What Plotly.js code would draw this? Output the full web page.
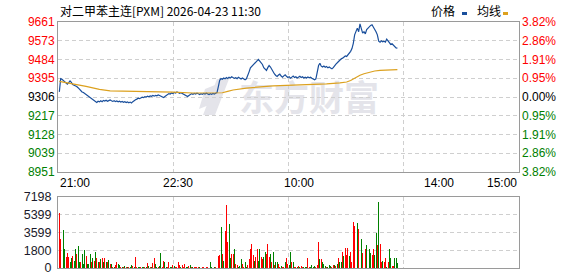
<!DOCTYPE html>
<html><head><meta charset="utf-8">
<script src="https://cdn.plot.ly/plotly-3.0.1.min.js"></script>
<style>html,body{margin:0;padding:0;background:#fff;} #chart{width:578px;height:276px;}</style>
</head><body><div id="chart"></div>
<script>
// ---------- data ----------
const titleText = '对二甲苯主连[PXM] 2026-04-23 11:30';
const timeLabels = ['21:00', '22:30', '10:00', '14:00', '15:00'];
const timeLabelMinutes = [0, 90, 180, 285, 345];
const sessionMinutes = 345;
const prevSettle = 9306;
const priceLow = 8951;
const priceHigh = 9661;
const priceTickLabels = ['8951', '9039', '9128', '9217', '9306', '9395', '9484', '9573', '9661'];
const pctTickLabels = ['3.82%', '2.86%', '1.91%', '0.95%', '0.00%', '0.95%', '1.91%', '2.86%', '3.82%'];
const volMax = 7198;
const volTickLabels = ['0', '1800', '3599', '5399', '7198'];

const price = [
9330,9393,9390,9385,9378,9372,9367,9374,9382,9375,
9365,9362,9360,9356,9350,9343,9335,9330,9327,9322,
9318,9315,9310,9306,9300,9295,9290,9284,9280,9286,
9283,9288,9284,9290,9287,9291,9286,9289,9292,9288,
9285,9288,9284,9287,9283,9286,9282,9285,9281,9284,
9280,9283,9279,9282,9278,9284,9290,9293,9296,9300,
9298,9302,9305,9303,9308,9306,9310,9307,9311,9309,
9313,9310,9314,9312,9316,9313,9310,9306,9303,9308,
9314,9318,9322,9320,9325,9322,9328,9325,9330,9327,
9323,9326,9322,9318,9315,9312,9308,9313,9318,9322,
9319,9323,9320,9324,9321,9318,9322,9319,9323,9320,
9324,9321,9318,9322,9319,9323,9320,9324,9327,9355,
9385,9393,9390,9396,9392,9398,9394,9400,9396,9402,
9398,9394,9397,9393,9399,9395,9391,9396,9392,9388,
9392,9405,9425,9444,9450,9456,9462,9472,9478,9484,
9476,9468,9460,9445,9436,9432,9445,9455,9448,9435,
9425,9415,9408,9403,9410,9414,9405,9400,9406,9411,
9404,9398,9402,9395,9400,9405,9398,9402,9396,9400,
9404,9398,9402,9396,9400,9396,9401,9397,9400,9395,
9390,9388,9392,9420,9455,9466,9452,9448,9453,9447,
9450,9444,9448,9443,9440,9445,9455,9462,9468,9475,
9480,9487,9490,9495,9500,9498,9505,9510,9522,9535,
9560,9600,9622,9632,9615,9652,9630,9608,9615,9605,
9625,9633,9640,9645,9648,9638,9628,9615,9600,9570,
9565,9572,9567,9570,9566,9580,9572,9562,9555,9558,
9550,9545,9538,9537
];

const avgMinute = [0,5,10,15,20,25,30,38,50,70,85,100,119,122,126,130,140,150,160,170,180,190,200,210,215,218,220,222,225,228,232,236,240,246,253];
const avgPrice  = [9380,9373,9368,9362,9356,9349,9342,9335,9334,9333,9329,9325,9323,9326,9333,9339,9348,9355,9359,9361,9363,9365,9368,9373,9377,9384,9392,9400,9409,9416,9423,9429,9432,9434,9436];

const volume = [
5548,2937,2708,3785,1892,1077,1468,1077,587,979,
1240,750,1958,1370,2219,587,587,1370,424,1827,
1240,424,424,1370,653,979,750,1566,1044,653,
587,914,1044,587,1044,587,587,848,392,392,
150,100,261,555,424,326,120,100,100,196,
100,120,100,100,261,196,120,1077,100,100,
100,100,100,120,100,100,490,196,100,100,
490,979,392,100,100,196,1468,120,750,587,
100,100,653,100,100,261,196,100,100,653,
261,100,261,100,392,100,100,196,326,100,
100,100,100,100,100,100,100,100,100,100,
100,120,326,587,100,100,100,100,490,1240,
1305,4177,1403,750,3753,6363,2643,4406,979,1403,
1370,1958,424,326,150,196,914,424,100,587,
100,326,914,1958,2447,1305,750,1077,1892,750,
1892,1077,914,1077,1632,1403,2447,1077,1403,587,
1566,261,587,555,424,100,196,120,100,587,
979,424,261,1566,653,587,100,100,100,196,
100,196,100,100,120,100,979,100,100,261,
120,196,100,326,2643,914,914,587,424,196,
100,100,261,196,100,261,326,196,424,1011,
587,587,1632,1240,2056,1305,2056,1240,1566,653,
4601,4243,3622,4504,3948,5287,2871,1468,1468,1958,
2284,979,1958,1500,1305,1892,1305,3524,2284,6624,
2382,653,750,653,1011,100,653,1892,979,196,
196,1044,979,490
];
const volUp = [
1,1,0,0,0,1,1,1,0,0,
1,0,0,1,0,0,1,0,0,0,
1,0,0,0,1,0,1,0,1,0,
1,0,1,0,1,0,1,0,1,0,
1,0,1,1,0,0,1,0,1,0,
1,0,1,0,0,1,0,1,1,0,
0,1,0,0,1,0,1,0,1,0,
1,1,0,0,1,0,0,1,1,0,
0,1,1,0,0,1,0,1,1,1,
1,0,1,1,1,0,0,1,0,1,
0,1,1,1,1,0,1,1,1,1,
1,1,1,0,0,1,0,1,0,1,
1,0,1,0,1,1,1,0,0,1,
1,0,1,1,0,0,0,1,1,0,
0,1,1,1,1,1,0,1,1,0,
0,1,1,0,0,1,1,1,0,1,
0,1,0,0,1,1,0,1,1,0,
1,1,0,0,1,0,1,1,0,1,
0,1,1,0,0,0,1,1,0,0,
0,0,1,1,1,0,1,0,0,0,
1,0,0,0,1,1,0,1,0,1,
0,0,1,0,1,1,1,0,1,1,
1,1,1,0,1,1,0,1,1,1,
0,0,0,0,1,1,0,0,1,0,
1,1,0,1,1,0,1,0,0,1,
1,0,0,0
];

// ---------- styling ----------
const BLUE = '#1a4f9c', ORANGE = '#dca11f', RED = '#ff0000', GREEN = '#008000';
const GRID = '#cfcfcf', BORDER = '#9a9a9a';
const xOffset = 1;

const nTick = priceTickLabels.length;
const priceTickVals = priceTickLabels.map((_, i) => priceLow + (priceHigh - priceLow) * i / (nTick - 1));
const tickColor = v => (Math.abs(v - prevSettle) < 1 ? '#000' : (v > prevSettle ? RED : GREEN));
const leftText = priceTickLabels.map((t, i) => `<span style="color:${tickColor(priceTickVals[i])}">${t}</span>`);
const rightText = pctTickLabels.map((t, i) => `<span style="color:${tickColor(priceTickVals[i])}">${t}</span>`);
const volTickVals = volTickLabels.map((_, i) => volMax * i / (volTickLabels.length - 1));
const quarterVals = [1, 2, 3].map(k => sessionMinutes * k / 4);

const traces = [
  {type: 'scatter', mode: 'lines', x: price.map((_, i) => i + xOffset), y: price,
   xaxis: 'x', yaxis: 'y', line: {color: BLUE, width: 1.2}, hoverinfo: 'skip'},
  {type: 'scatter', mode: 'lines', x: avgMinute.map(m => m + xOffset), y: avgPrice,
   xaxis: 'x', yaxis: 'y2', line: {color: ORANGE, width: 1.2}, hoverinfo: 'skip'},
  {type: 'bar', x: volume.map((_, i) => i + xOffset), y: volume, xaxis: 'x2', yaxis: 'y3',
   width: 0.72, marker: {color: volUp.map(u => u ? RED : GREEN), line: {width: 0}}, hoverinfo: 'skip'}
];

const baseX = {range: [0, sessionMinutes], tickvals: quarterVals, showticklabels: false, ticks: '',
  showgrid: true, gridcolor: GRID, griddash: '4px,3px', gridwidth: 1, zeroline: false,
  showline: true, mirror: true, linecolor: BORDER, linewidth: 1, fixedrange: true};

// plot area: x 58..519, y 22..268
const paperX = px => (px - 58) / 461;
const paperY = py => (268 - py) / 246;

const annotations = [
  {xref: 'paper', yref: 'paper', x: 0, y: 1, xanchor: 'left', yanchor: 'middle', yshift: 12,
   text: titleText, showarrow: false, font: {family: 'Noto Sans CJK SC, sans-serif', size: 12, color: '#000'}},
  {xref: 'paper', yref: 'paper', x: paperX(429), y: 1, xanchor: 'left', yanchor: 'middle', yshift: 12,
   text: '价格', showarrow: false, font: {family: 'Noto Sans CJK SC, sans-serif', size: 12, color: '#000'}},
  {xref: 'paper', yref: 'paper', x: paperX(475), y: 1, xanchor: 'left', yanchor: 'middle', yshift: 12,
   text: '均线', showarrow: false, font: {family: 'Noto Sans CJK SC, sans-serif', size: 12, color: '#000'}}
];
timeLabels.forEach((t, i) => {
  annotations.push({xref: 'x', yref: 'paper', x: timeLabelMinutes[i], y: paperY(172), yanchor: 'top', yshift: -2,
    xanchor: i === 0 ? 'left' : (i === timeLabels.length - 1 ? 'right' : 'center'),
    text: t, showarrow: false, font: {family: 'Liberation Sans, Arial, sans-serif', size: 12, color: '#000'}});
});

const shapes = [
  {type: 'rect', xref: 'paper', yref: 'paper', x0: paperX(462), x1: paperX(467), y0: paperY(15), y1: paperY(12),
   fillcolor: BLUE, line: {width: 0}},
  {type: 'rect', xref: 'paper', yref: 'paper', x0: paperX(503), x1: paperX(508), y0: paperY(15), y1: paperY(12),
   fillcolor: ORANGE, line: {width: 0}}
];

const wmSvg = `<svg xmlns="http://www.w3.org/2000/svg" width="190" height="42" viewBox="0 0 190 42">
<path d="M22 4 L34 4 L20 40 L8 40 Z M10 14 L20 10 L14 30 L4 34 Z" fill="#e4e4ea"/>
<text x="44" y="36" font-family="Noto Sans CJK SC" font-weight="bold" font-size="35" fill="#e4e4ea">东方财富</text></svg>`;
const images = [{source: 'data:image/svg+xml;charset=utf-8,' + encodeURIComponent(wmSvg),
  xref: 'paper', yref: 'paper', x: paperX(195), y: paperY(75), sizex: 190 / 461, sizey: 42 / 246,
  xanchor: 'left', yanchor: 'top', sizing: 'stretch', layer: 'below'}];

const layout = {
  width: 578, height: 276,
  margin: {l: 58, r: 59, t: 22, b: 8, pad: 0},
  paper_bgcolor: '#ffffff', plot_bgcolor: 'rgba(0,0,0,0)',
  showlegend: false, bargap: 0,
  font: {family: 'Liberation Sans, Arial, sans-serif', size: 12, color: '#000'},
  xaxis: Object.assign({}, baseX, {domain: [0, 1], anchor: 'y'}),
  yaxis: {domain: [paperY(172), 1], range: [priceLow, priceHigh], tickvals: priceTickVals, ticktext: leftText,
    ticks: '', showgrid: true, gridcolor: GRID, griddash: '4px,3px', zeroline: false,
    showline: true, mirror: true, linecolor: BORDER, linewidth: 1, ticklabelstandoff: 0, fixedrange: true,
    ticklabeloverflow: 'allow', tickfont: {size: 12}},
  yaxis2: {overlaying: 'y', side: 'right', anchor: 'x', range: [priceLow, priceHigh], tickvals: priceTickVals,
    ticktext: rightText, ticks: '', showgrid: false, zeroline: false, showline: false, ticklabelstandoff: 2,
    ticklabeloverflow: 'allow', fixedrange: true, tickfont: {size: 12}},
  xaxis2: Object.assign({}, baseX, {domain: [0, 1], anchor: 'y3'}),
  yaxis3: {domain: [0, paperY(196.5)], range: [0, volMax], tickvals: volTickVals, ticktext: volTickLabels,
    ticks: '', showgrid: true, gridcolor: GRID, griddash: '4px,3px', zeroline: false,
    showline: true, mirror: true, linecolor: BORDER, linewidth: 1, ticklabelstandoff: 3, fixedrange: true,
    ticklabeloverflow: 'allow', tickfont: {size: 12.5, color: '#1a1a2a'}},
  annotations, shapes, images
};

Plotly.newPlot('chart', traces, layout, {staticPlot: true, displayModeBar: false});
</script>
</body></html>
